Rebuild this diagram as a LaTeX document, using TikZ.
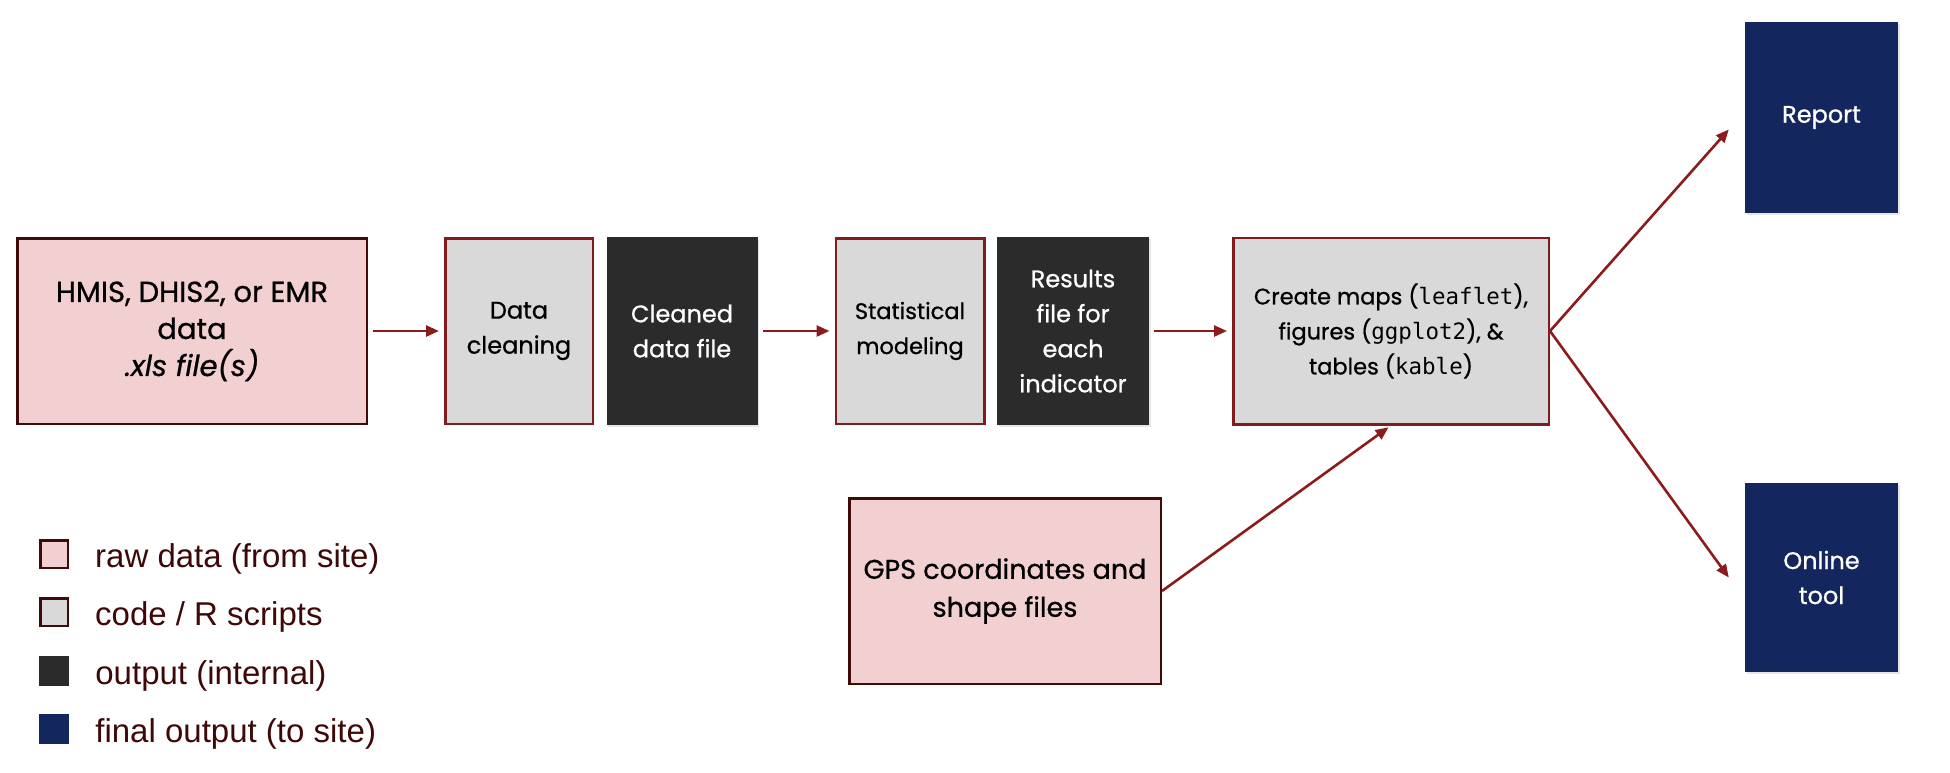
\documentclass[tikz,border=0pt]{standalone}
\usepackage{fontspec}
\setmainfont[FakeBold=0.8]{Poppins}
\setmonofont{DejaVu Sans Mono}
\newfontfamily\legendfont{Liberation Sans}
\definecolor{rawpink}{RGB}{242,208,210}
\definecolor{rawedge}{RGB}{62,10,10}
\definecolor{codegray}{RGB}{217,217,217}
\definecolor{codeedge}{RGB}{128,28,28}
\definecolor{outdark}{RGB}{43,43,43}
\definecolor{finalnavy}{RGB}{20,38,94}
\definecolor{flowred}{RGB}{140,28,28}
\definecolor{legendtext}{RGB}{62,8,8}
\usetikzlibrary{arrows.meta, positioning, shadows}

\begin{document}
\begin{tikzpicture}[x=1pt, y=-1pt,
  raw/.style={draw=rawedge, line width=2.5pt, fill=rawpink, text=black, align=center, inner sep=0pt},
  code/.style={draw=codeedge, line width=2.5pt, fill=codegray, text=black, align=center, inner sep=0pt},
  internal/.style={fill=outdark, text=white, align=center, inner sep=0pt, drop shadow={shadow xshift=1.5pt, shadow yshift=-1.5pt, opacity=0.2}},
  final/.style={fill=finalnavy, text=white, align=center, inner sep=0pt, drop shadow={shadow xshift=1.5pt, shadow yshift=-1.5pt, opacity=0.2}},
  arr/.style={-{Triangle[length=13pt, width=11pt]}, line width=2.6pt, flowred, shorten <=5pt, shorten >=5pt},
  key/.style={minimum size=30pt, inner sep=0pt},
  keylbl/.style={right=26pt of #1, yshift=-5pt, inner sep=0pt, text=legendtext, font=\legendfont\fontsize{33}{38}\selectfont}
]
\useasboundingbox (0,0) rectangle (1950,772);

\node[raw, minimum width=349.5pt, minimum height=185.5pt, font=\fontsize{29}{37}\selectfont] (hmis) at (192,331)
  {HMIS, DHIS2, or EMR\\data\\\textit{.xls file(s)}};
\node[code, minimum width=147.5pt, minimum height=185.5pt, font=\fontsize{24}{35}\selectfont] (dclean) at (519,331) {Data\\cleaning};
\node[internal, minimum width=151pt, minimum height=188pt, font=\fontsize{24}{35}\selectfont] (cleaned) at (682,331) {Cleaned\\data file};
\node[code, minimum width=148.5pt, minimum height=185.5pt, font=\fontsize{22.5}{35}\selectfont] (stat) at (910,331) {Statistical\\modeling};
\node[internal, minimum width=152pt, minimum height=188pt, font=\fontsize{24}{35}\selectfont] (results) at (1073,331) {Results\\file for\\each\\indicator};
\node[code, minimum width=315.5pt, minimum height=186.5pt, font=\fontsize{22.5}{35}\selectfont] (create) at (1391,331)
  {Create maps (\texttt{leaflet}),\\figures (\texttt{ggplot2}), \&\\tables (\texttt{kable})};
\node[raw, minimum width=311.5pt, minimum height=185.5pt, font=\fontsize{27}{38}\selectfont] (gps) at (1005,591) {GPS coordinates and\\shape files};
\node[final, minimum width=153pt, minimum height=191pt, font=\fontsize{24}{35}\selectfont] (report) at (1821.5,117.5) {Report};
\node[final, minimum width=153pt, minimum height=189pt, font=\fontsize{24}{35}\selectfont] (online) at (1821.5,577.5) {Online\\tool};

\coordinate (reportin) at ([xshift=-16pt, yshift=-12pt]report.west);
\coordinate (onlinein) at ([xshift=-16pt]online.west);

\draw[arr] (hmis) -- (dclean);
\draw[arr] (cleaned) -- (stat);
\draw[arr] (results) -- (create);
\draw[arr, shorten <=0pt, shorten >=3pt] (gps.east) -- (create.south);
\draw[arr, shorten <=0pt, shorten >=0pt] (create.east) -- (reportin);
\draw[arr, shorten <=0pt, shorten >=0pt] (create.east) -- (onlinein);

% legend
\node[key, fill=rawpink, draw=rawedge, line width=2.5pt, minimum size=27.5pt] (keyraw) at (54,554) {};
\node[key, fill=codegray, draw=rawedge, line width=2.5pt, minimum size=27.5pt] (keycode) at (54,612) {};
\node[key, fill=outdark] (keyint) at (54,671) {};
\node[key, fill=finalnavy] (keyfinal) at (54,729) {};
\node[keylbl=keyraw] (lblraw) {raw data (from site)};
\node[keylbl=keycode] (lblcode) {code / R scripts};
\node[keylbl=keyint] (lblint) {output (internal)};
\node[keylbl=keyfinal] (lblfinal) {final output (to site)};

\end{tikzpicture}
\end{document}
